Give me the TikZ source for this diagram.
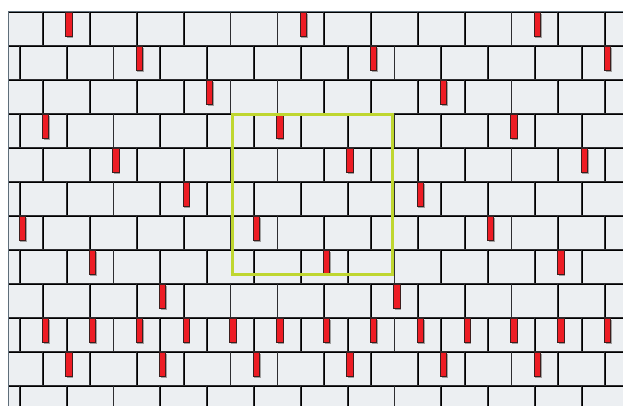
\documentclass[tikz,border=0pt]{standalone}
\definecolor{brickfill}{RGB}{236,239,242}
\definecolor{mortar}{RGB}{45,45,48}
\definecolor{shade}{RGB}{160,160,160}
\definecolor{walledge}{RGB}{95,110,122}
\definecolor{marker}{RGB}{237,28,36}
\definecolor{markerline}{RGB}{60,30,30}
\definecolor{framegreen}{RGB}{191,214,48}
\tikzset{
  joint/.style={mortar, line width=0.7pt},
  jointshade/.style={shade, line width=0.9pt},
  redmark/.style={fill=marker, draw=markerline, line width=0.8pt},
  redshade/.style={fill=shade},
  focus/.style={draw=framegreen, line width=3pt}
}
\begin{document}
\begin{tikzpicture}[x=1pt,y=-1pt]
\useasboundingbox (0,0) rectangle (623,405);
\begin{scope}
\clip (0,0) rectangle (623,405);
\fill[brickfill] (8.3,11.5) rectangle (640,420);
% shadows of joints
\foreach \r in {0,...,11} {
  \pgfmathsetmacro\yt{11.5+34*\r}
  \pgfmathsetmacro\yb{\yt+34}
  \pgfmathsetmacro\xo{mod(\r,2)==0 ? 42.7 : 19.3}
  \draw[jointshade] (8.3,\yt+0.9) -- (640,\yt+0.9);
  \foreach \k in {0,...,13} {
    \pgfmathsetmacro\xx{\xo+46.83*\k}
    \draw[jointshade] (\xx+0.9,\yt) -- (\xx+0.9,\yb);
  }
}
% joints
\foreach \r in {0,...,11} {
  \pgfmathsetmacro\yt{11.5+34*\r}
  \pgfmathsetmacro\yb{\yt+34}
  \pgfmathsetmacro\xo{mod(\r,2)==0 ? 42.7 : 19.3}
  \draw[joint] (8.3,\yt) -- (640,\yt);
  \foreach \k in {0,...,13} {
    \pgfmathsetmacro\xx{\xo+46.83*\k}
    \draw[joint] (\xx,\yt) -- (\xx,\yb);
  }
}
% wall edges
\draw[walledge, line width=1.2pt] (8.3,420) -- (8.3,11.5) -- (640,11.5);
% red markers
\foreach \r/\n in {0/2,0/12,0/22,
                   1/5,1/15,1/25,
                   2/8,2/18,
                   3/1,3/11,3/21,
                   4/4,4/14,4/24,
                   5/7,5/17,
                   6/0,6/10,6/20,
                   7/3,7/13,7/23,
                   8/6,8/16,
                   9/1,9/3,9/5,9/7,9/9,9/11,9/13,9/15,9/17,9/19,9/21,9/23,9/25,
                   10/2,10/6,10/10,10/14,10/18,10/22} {
  \pgfmathsetmacro\xl{19.3+23.42*\n-0.3}
  \pgfmathsetmacro\ym{11.5+34*\r+1}
  \fill[redshade] (\xl+1.2,\ym+1.2) rectangle +(6.3,24);
  \path[redmark] (\xl,\ym) rectangle +(6.3,24);
}
\end{scope}
% focus frame
\draw[focus] (232.3,114.6) rectangle (392,274);
\end{tikzpicture}
\end{document}
